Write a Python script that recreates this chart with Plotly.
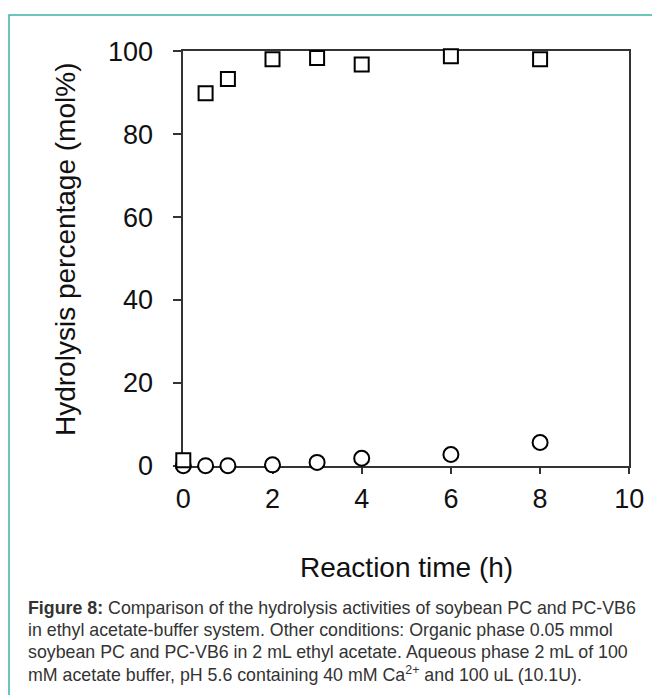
import plotly.graph_objects as go

# Data
time_pc = [0, 0.5, 1, 2, 3, 4, 6, 8]
hydrolysis_pc = [1.3, 89.9, 93.3, 98.1, 98.4, 96.8, 98.8, 98.1]
time_vb6 = [0, 0.5, 1, 2, 3, 4, 6, 8]
hydrolysis_vb6 = [0, 0, 0, 0.2, 0.8, 1.8, 2.7, 5.6]
x_ticks = [0, 2, 4, 6, 8, 10]
y_ticks = [0, 20, 40, 60, 80, 100]

caption_lines = [
    "<b>Figure 8:</b> Comparison of the hydrolysis activities of soybean PC and PC-VB6",
    "in ethyl acetate-buffer system. Other conditions: Organic phase 0.05 mmol",
    "soybean PC and PC-VB6 in 2 mL ethyl acetate. Aqueous phase 2 mL of 100",
    "mM acetate buffer, pH 5.6 containing 40 mM Ca<sup>2+</sup> and 100 uL (10.1U).",
]

W, H = 660, 695
OFF = 8  # page body margin offset

fig = go.Figure()

fig.add_trace(go.Scatter(
    x=time_vb6, y=hydrolysis_vb6, mode="markers", name="PC-VB6",
    marker=dict(symbol="circle", size=15, color="white",
                line=dict(color="black", width=2)),
    cliponaxis=False,
))
fig.add_trace(go.Scatter(
    x=time_pc, y=hydrolysis_pc, mode="markers", name="PC",
    marker=dict(symbol="square", size=14, color="white",
                line=dict(color="black", width=2)),
    cliponaxis=False,
))

def px_x(p):
    return (p - OFF) / W

def px_y(p):
    return 1 - (p - OFF) / H

axis_font = dict(family="Liberation Sans, Arial, sans-serif", size=27, color="#111")

fig.update_layout(
    template="none",
    width=W, height=H,
    margin=dict(l=0, r=0, t=0, b=0, autoexpand=False),
    paper_bgcolor="white", plot_bgcolor="white",
    showlegend=False,
    xaxis=dict(
        domain=[px_x(183.3), px_x(629.3)],
        range=[0, 10], tickvals=x_ticks, ticktext=[str(v) for v in x_ticks],
        showgrid=False, zeroline=False, automargin=False,
        showline=True, linecolor="#333", linewidth=1.5, mirror=True,
        ticks="outside", ticklen=7, tickwidth=1.5, tickcolor="#333",
        tickfont=axis_font, ticklabelstandoff=1,
        layer="below traces",
    ),
    yaxis=dict(
        domain=[px_y(465.7), px_y(51.3)],
        range=[0, 100], tickvals=y_ticks, ticktext=[str(v) for v in y_ticks],
        showgrid=False, zeroline=False, automargin=False,
        showline=True, linecolor="#333", linewidth=1.5, mirror=True,
        ticks="outside", ticklen=9, tickwidth=1.5, tickcolor="#333",
        tickfont=axis_font, ticklabelstandoff=14,
        layer="below traces",
    ),
)

# Axis titles as annotations for precise placement
fig.add_annotation(text="Reaction time (h)", xref="paper", yref="paper",
                   x=px_x(407), y=px_y(567), showarrow=False,
                   xanchor="center", yanchor="middle",
                   font=dict(family="Liberation Sans, Arial, sans-serif", size=28, color="#111"))
fig.add_annotation(text="Hydrolysis percentage (mol%)", xref="paper", yref="paper",
                   x=px_x(65), y=px_y(250), showarrow=False, textangle=-90,
                   xanchor="center", yanchor="middle",
                   font=dict(family="Liberation Sans, Arial, sans-serif", size=28, color="#111"))

# Caption
line_y = [608, 630, 652, 674]
for txt, yy in zip(caption_lines, line_y):
    fig.add_annotation(text=txt, xref="paper", yref="paper",
                       x=px_x(26), y=px_y(yy), showarrow=False,
                       xanchor="left", yanchor="middle",
                       font=dict(family="Liberation Sans, Arial, sans-serif",
                                 size=17.8, color="#333"))

# Teal frame (left and top edges visible)
fig.add_shape(type="rect", xref="paper", yref="paper",
              x0=px_x(9), y0=px_y(730), x1=px_x(720), y1=px_y(15),
              line=dict(color="#3db3a6", width=1.5), fillcolor="rgba(0,0,0,0)",
              layer="below")

fig.write_html("out.html")
